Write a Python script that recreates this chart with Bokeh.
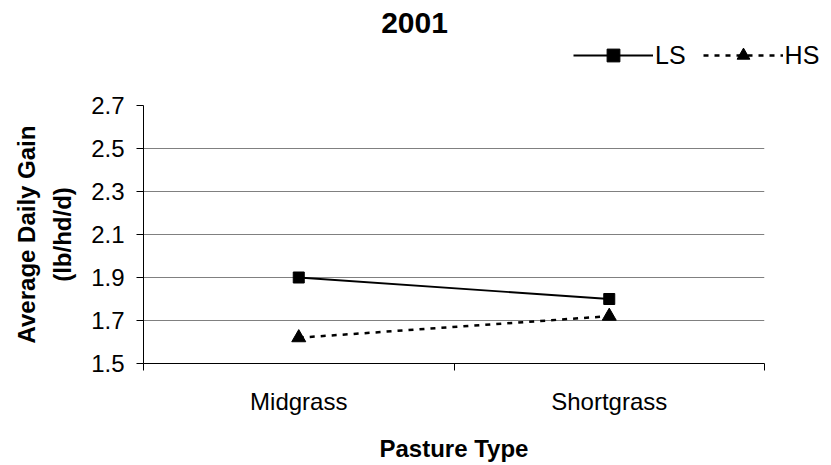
from bokeh.plotting import figure
from bokeh.models import FixedTicker, Range1d, Legend, LegendItem, Label
from bokeh.layouts import column
from bokeh.embed import file_html
from bokeh.resources import INLINE

categories = ["Midgrass", "Shortgrass"]
ls_values = [1.90, 1.80]
hs_values = [1.62, 1.72]
y_ticks = [1.5, 1.7, 1.9, 2.1, 2.3, 2.5, 2.7]
title_text = "2001"

xs = [i + 0.5 for i in range(len(categories))]
FONT = "Liberation Sans"

LS_LINE = dict(line_color="black", line_width=1.8)
HS_LINE = dict(line_color="black", line_width=2.5, line_dash="5 6")
LS_MARK = dict(marker="square", size=11, fill_color="black", line_color="black")
HS_MARK = dict(marker="triangle", size=14, fill_color="black", line_color="black")

# ---- header figure: title + legend ----
top = figure(width=831, height=80, output_backend="svg", toolbar_location=None,
             x_range=Range1d(0, 1), y_range=Range1d(0, 1),
             x_axis_type=None, y_axis_type=None, min_border=0)
top.frame_align = False
top.outline_line_color = None
top.xgrid.visible = False
top.ygrid.visible = False
tl1 = top.line(xs, ls_values, visible=False, **LS_LINE)
ts1 = top.scatter(xs, ls_values, visible=False, **LS_MARK)
tl2 = top.line(xs, hs_values, visible=False, **HS_LINE)
ts2 = top.scatter(xs, hs_values, visible=False, **HS_MARK)
top.add_layout(Label(x=414, y=58, x_units="screen", y_units="screen", text=title_text,
                     text_align="center", text_baseline="alphabetic",
                     text_font=FONT, text_font_size="30px", text_font_style="bold",
                     text_color="black"))
legend = Legend(items=[LegendItem(label="LS", renderers=[tl1, ts1]),
                       LegendItem(label="HS", renderers=[tl2, ts2])],
                location=(573, 9), orientation="horizontal",
                border_line_color=None, background_fill_alpha=0,
                padding=0, margin=0, spacing=17, label_standoff=2,
                glyph_width=80, glyph_height=32,
                label_text_font=FONT, label_text_font_size="25px",
                label_text_color="black")
top.add_layout(legend, "center")

# ---- main chart ----
p = figure(width=831, height=385, output_backend="svg", toolbar_location=None,
           x_range=Range1d(0, len(categories)), y_range=Range1d(1.5, 2.7),
           min_border_left=143, min_border_right=67, min_border_top=25, min_border_bottom=102)
p.frame_align = False
p.outline_line_color = None
p.background_fill_color = "white"

p.line(xs, ls_values, **LS_LINE)
p.scatter(xs, ls_values, **LS_MARK)
p.line(xs, hs_values, **HS_LINE)
p.scatter(xs, hs_values, **HS_MARK)

# x axis
xa = p.xaxis[0]
xa.ticker = FixedTicker(ticks=xs, minor_ticks=list(range(len(categories) + 1)))
xa.major_label_overrides = {x: c for x, c in zip(xs, categories)}
xa.major_tick_out = 0
xa.major_tick_in = 0
xa.minor_tick_out = 7
xa.minor_tick_in = 0
xa.minor_tick_line_color = "black"
xa.axis_line_color = "black"
xa.major_label_text_font = FONT
xa.major_label_text_font_size = "24px"
xa.major_label_text_color = "black"
xa.major_label_standoff = 17
xa.axis_label = "Pasture Type"
xa.axis_label_text_font = FONT
xa.axis_label_text_font_size = "24px"
xa.axis_label_text_font_style = "bold"
xa.axis_label_text_color = "black"
xa.axis_label_standoff = 17

# y axis
ya = p.yaxis[0]
ya.ticker = FixedTicker(ticks=y_ticks, minor_ticks=[])
ya.major_tick_out = 7
ya.major_tick_in = 0
ya.major_tick_line_color = "black"
ya.axis_line_color = "black"
ya.major_label_text_font = FONT
ya.major_label_text_font_size = "24px"
ya.major_label_text_color = "black"
ya.major_label_standoff = 12
ya.axis_label = "Average Daily Gain\n(lb/hd/d)"
ya.axis_label_text_font = FONT
ya.axis_label_text_font_size = "24px"
ya.axis_label_text_font_style = "bold"
ya.axis_label_text_color = "black"
ya.axis_label_text_line_height = 1.34
ya.axis_label_standoff = 12

p.xgrid.grid_line_color = None
p.ygrid.ticker = FixedTicker(ticks=y_ticks)
p.ygrid.grid_line_color = "#808080"
p.ygrid.grid_line_width = 1

layout = column(top, p, spacing=0)
open("out.html", "w").write(file_html(layout, INLINE))
